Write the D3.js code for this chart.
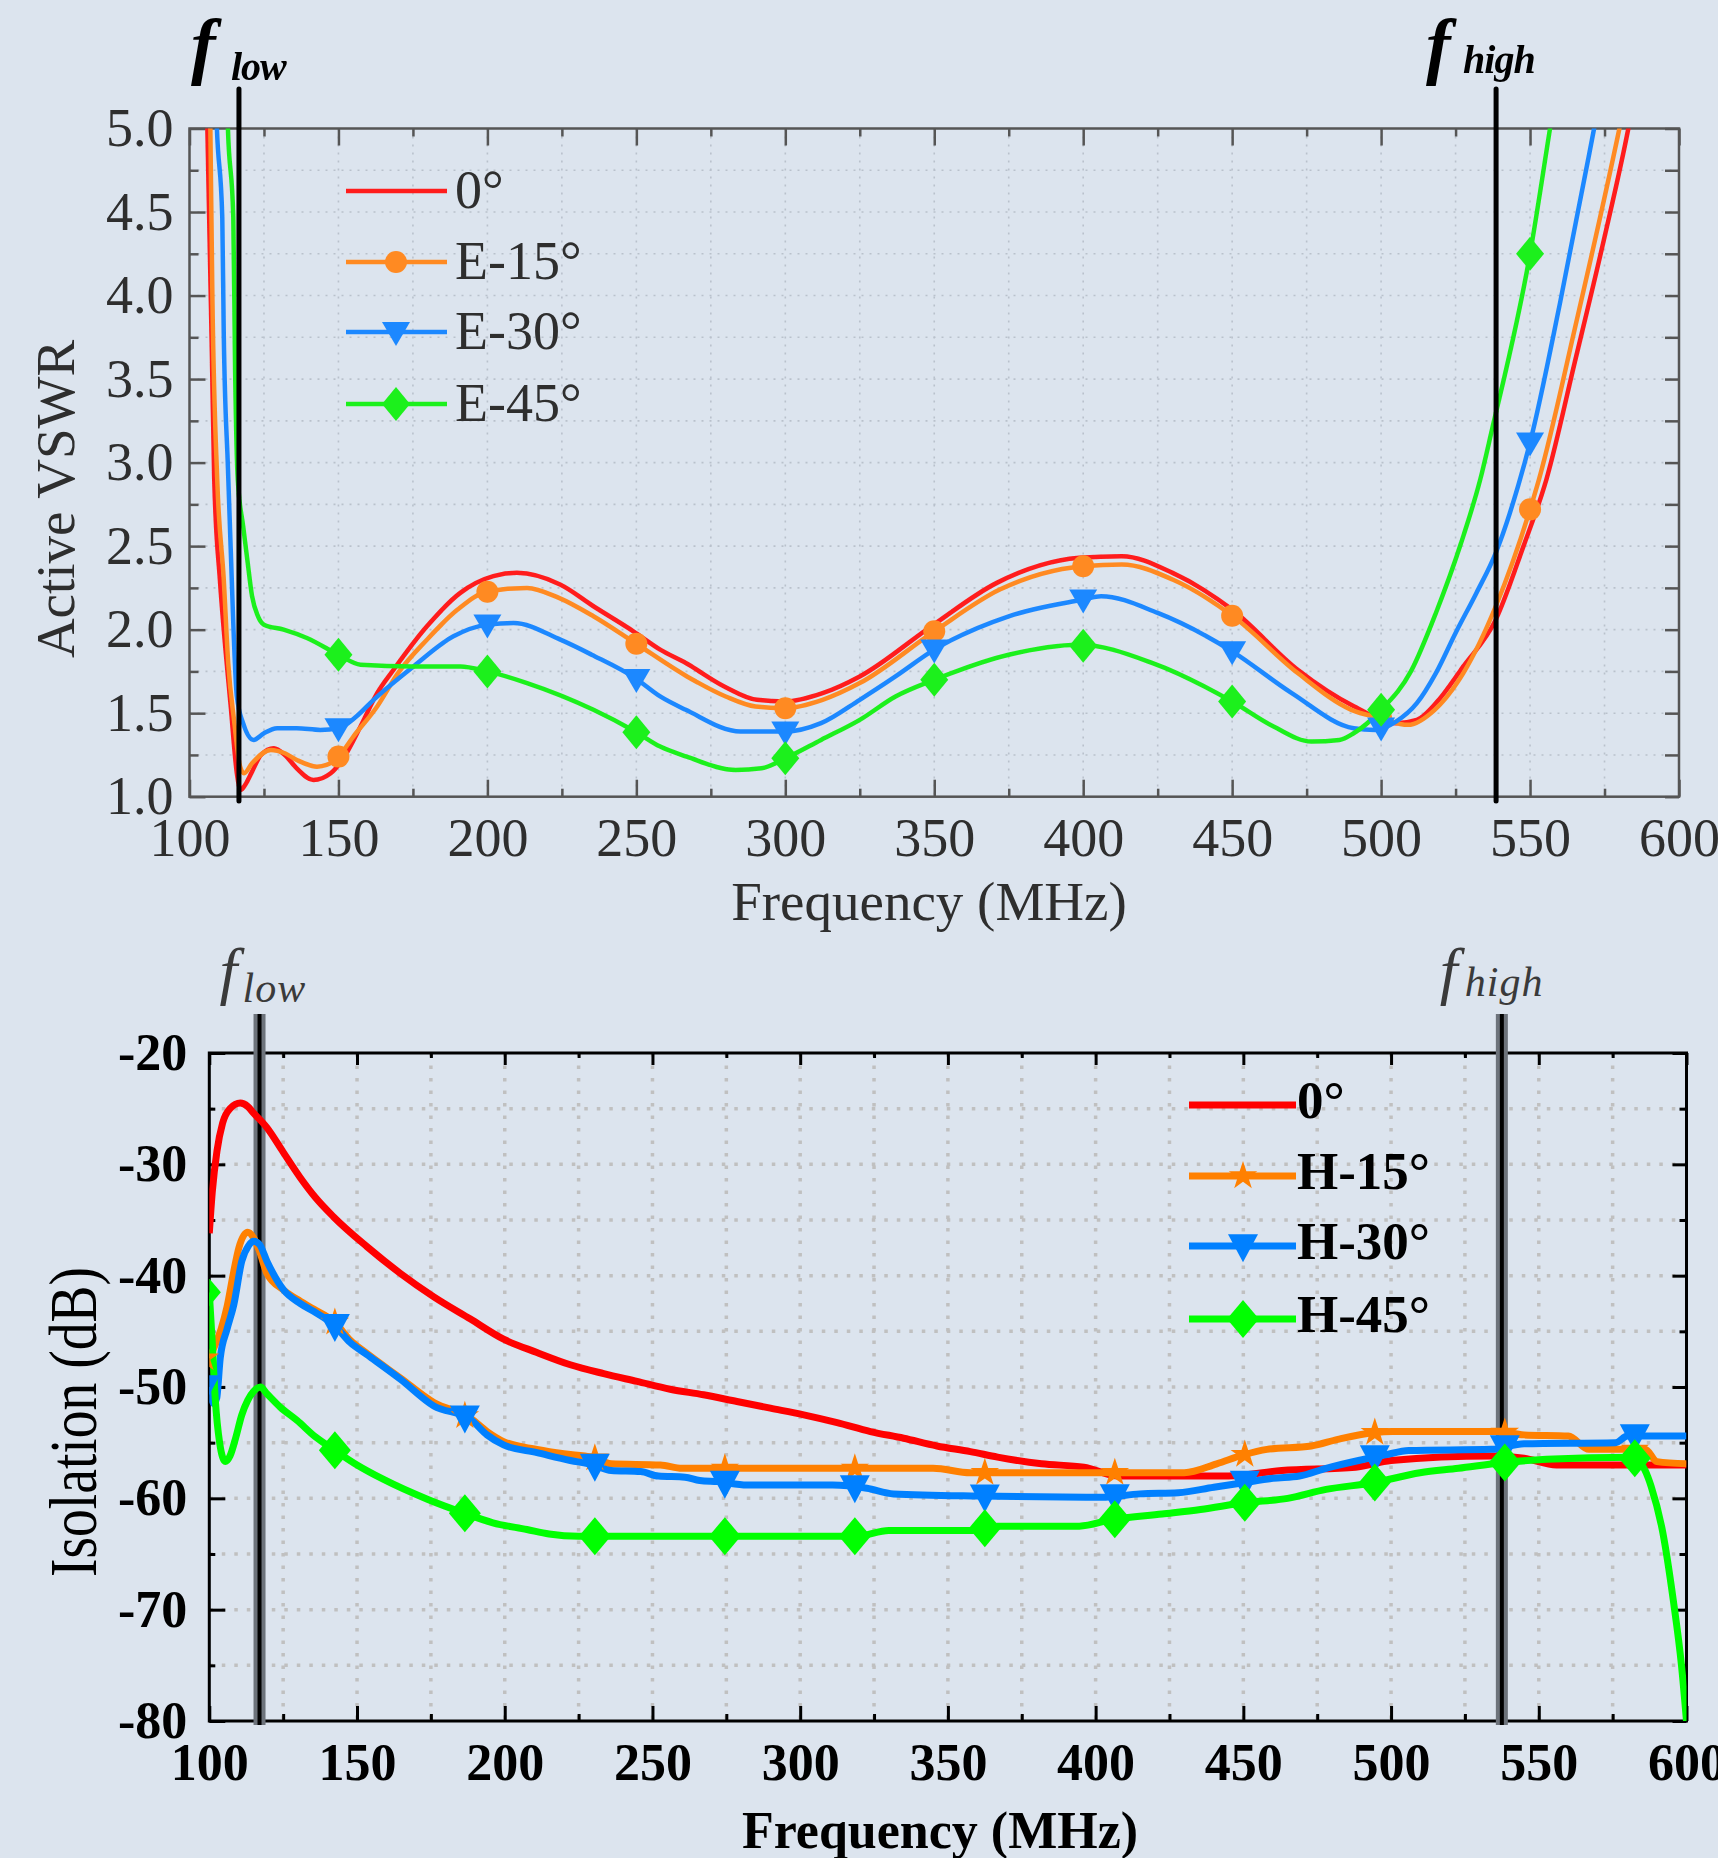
<!DOCTYPE html>
<html>
<head>
<meta charset="utf-8">
<script src="https://cdn.jsdelivr.net/npm/d3@7"></script>
<style>
  html, body { margin: 0; padding: 0; background: #dce4ee; }
  svg { display: block; }
</style>
</head>
<body>
<svg id="fig" width="1718" height="1858"></svg>
<script>
// ---------- shared axis values ----------
const freqTicks = [100, 150, 200, 250, 300, 350, 400, 450, 500, 550, 600];
const vswrTicks = [1.0, 1.5, 2.0, 2.5, 3.0, 3.5, 4.0, 4.5, 5.0];
const isoTicks = [-80, -70, -60, -50, -40, -30, -20];

// ---------- Active VSWR (E-plane scan) ----------
const vswrLabels = ["0°", "E-15°", "E-30°", "E-45°"];
const vswrBandEdges = [116.6, 538.6];          // f_low, f_high (MHz)
const vswrMarkerFreqs = [150, 200, 250, 300, 350, 400, 450, 500, 550];

const vswr0 = [[104,6.5],[106,5.0],[107.5,3.67],[108.3,2.9],[110.2,2.30],[111.5,2.0],[113.8,1.55],[115.9,1.14],[117.2,1.04],[119,1.08],[121,1.15],[124,1.25],[128.3,1.29],[132,1.25],[136,1.17],[141.6,1.10],[147.4,1.14],[152,1.24],[157.4,1.42],[163,1.62],[168.5,1.76],[179.7,2.02],[190.9,2.22],[202,2.32],[209.9,2.34],[224.4,2.27],[235.6,2.14],[249,1.99],[258,1.88],[266.6,1.80],[279.5,1.66],[290.5,1.58],[300,1.57],[312.5,1.62],[325,1.72],[349,2.02],[371,2.28],[398.7,2.43],[413,2.44],[430,2.34],[450,2.12],[472,1.76],[491,1.54],[505,1.44],[512,1.46],[518.4,1.56],[527.6,1.78],[538.5,2.06],[547.8,2.50],[555.5,2.90],[565,3.60],[575,4.35],[583,5.0],[590,5.7]];

const vswr15 = [[105,6.5],[107,5.0],[107.7,3.97],[109.3,2.9],[111.5,2.30],[113,1.80],[115,1.45],[117,1.18],[118.3,1.14],[121,1.20],[127.3,1.28],[132,1.26],[136,1.22],[142.8,1.18],[146,1.19],[150,1.24],[155,1.36],[163,1.54],[170,1.74],[179.7,1.94],[190,2.12],[200.3,2.23],[213.3,2.25],[224,2.19],[235.6,2.08],[249.6,1.92],[267,1.72],[280,1.60],[290,1.54],[300,1.53],[312.5,1.58],[325,1.68],[350,1.99],[372,2.24],[400,2.38],[413,2.39],[430,2.30],[450.3,2.08],[472,1.74],[490,1.52],[500,1.47],[509,1.43],[518,1.52],[527.6,1.74],[538.5,2.14],[550,2.72],[553,2.90],[565,3.80],[580,5.0],[588,5.7]];

const vswr30 = [[107,6.5],[109.2,5.0],[111,4.47],[111.5,3.77],[112.9,2.97],[113.8,2.50],[115.9,1.60],[118,1.44],[121.5,1.34],[125,1.38],[129.4,1.41],[136,1.41],[143.9,1.40],[150,1.41],[156,1.48],[161.8,1.58],[175.2,1.78],[188.6,1.96],[200,2.03],[208.8,2.04],[224.5,1.94],[235,1.85],[249.6,1.71],[258,1.60],[266.6,1.52],[285,1.39],[300,1.39],[312,1.44],[325,1.58],[337,1.72],[350,1.88],[375,2.08],[400,2.18],[406,2.20],[425,2.10],[450,1.87],[470,1.62],[490.8,1.41],[498,1.40],[505,1.45],[512,1.56],[518.4,1.74],[525,1.98],[532,2.22],[538.5,2.46],[546,2.86],[550,3.12],[560,3.95],[571.5,5.0],[580,5.8]];

const vswr45 = [[111,6.5],[112.9,5.0],[114.7,4.47],[115.3,3.57],[116.2,2.90],[118,2.62],[119.4,2.42],[121,2.20],[123,2.08],[125,2.03],[131.6,2.00],[139.4,1.95],[150,1.85],[157.4,1.79],[175,1.78],[190.9,1.78],[200,1.75],[213.3,1.68],[235.6,1.52],[249.6,1.39],[258,1.30],[266.9,1.24],[283.3,1.16],[292,1.17],[300,1.23],[312,1.34],[325,1.46],[337,1.60],[350,1.70],[375,1.85],[398.7,1.91],[423.3,1.80],[450,1.57],[463.9,1.42],[476.6,1.33],[486,1.34],[490.8,1.38],[500,1.52],[510,1.75],[518.4,2.10],[527.6,2.56],[533.3,2.90],[537,3.18],[550,4.25],[556.7,5.0],[562,5.6]];

// ---------- Isolation (H-plane scan) ----------
const isoLabels = ["0°", "H-15°", "H-30°", "H-45°"];
const isoBandEdges = [117, 537.5];             // f_low, f_high (MHz)
const isoMarkerFreqs = [98.5, 142.5, 186.5, 230.5, 274.5, 318.5, 362.5, 406.5, 450.5, 494.5, 538.5, 582.5];

const iso0 = [[100,-36.2],[101,-32.5],[102.6,-28.8],[104.5,-26.3],[107,-25.0],[110.5,-24.5],[113,-24.8],[115,-25.4],[119.5,-26.7],[125,-28.9],[130.8,-31.2],[136,-33.0],[142,-34.7],[153.4,-37.4],[164.7,-39.8],[176,-41.9],[188.4,-43.9],[199.6,-45.7],[210.9,-46.9],[222.2,-48.0],[233.5,-48.8],[244.8,-49.5],[256,-50.2],[267.3,-50.7],[278.6,-51.3],[289.9,-51.9],[301.2,-52.5],[312.5,-53.2],[323.8,-54.0],[335,-54.6],[346.3,-55.3],[357.6,-55.8],[366.8,-56.3],[381.7,-56.9],[396,-57.2],[408,-58.0],[445,-58.0],[463,-57.5],[488,-57.2],[500,-56.6],[534,-56.2],[545,-56.4],[556,-57.0],[600,-57.0]];

const iso15 = [[100,-47.4],[102,-46.2],[104,-44.8],[106,-42.8],[108,-40.0],[110,-37.5],[113,-36.1],[115,-36.6],[117,-37.8],[119.5,-39.8],[125.2,-41.3],[130.8,-42.3],[135.3,-43.0],[142.5,-44.2],[147.7,-45.8],[153.4,-47.0],[164.7,-49.2],[176,-51.4],[188.4,-52.8],[194,-54.0],[199.6,-54.9],[210.9,-55.6],[220,-56.0],[229.5,-56.3],[236,-56.9],[252.7,-57.0],[260,-57.3],[345,-57.3],[357.6,-57.7],[430,-57.7],[441,-56.9],[450,-56.1],[458,-55.6],[473,-55.3],[482,-54.7],[494,-54.1],[500.5,-54.0],[536,-54.0],[545,-54.3],[560,-54.4],[567,-55.6],[586,-55.6],[590,-56.7],[600,-56.9]];

const iso30 = [[100,-50.0],[101.5,-51.5],[102.5,-51.0],[103.7,-47.4],[106,-44.8],[108.3,-42.6],[111,-38.7],[113.3,-37.3],[115,-36.9],[117,-37.2],[119.5,-38.7],[125.2,-41.3],[130.8,-42.5],[135.3,-43.2],[142.5,-44.5],[147.7,-46.0],[153.4,-47.1],[164.7,-49.3],[176,-51.7],[188.4,-52.9],[194,-54.3],[199.6,-55.2],[210.9,-55.9],[222.2,-56.6],[230,-57.0],[236,-57.5],[246,-57.6],[252,-58.0],[261,-58.1],[266,-58.4],[272,-58.5],[282,-58.8],[311,-58.8],[322.6,-59.1],[331.6,-59.6],[360,-59.8],[402,-59.9],[415,-59.6],[428,-59.5],[440,-59.0],[450,-58.6],[460,-58.2],[469,-58.0],[478,-57.3],[489,-56.6],[498,-56.1],[506,-55.7],[534,-55.6],[545,-55.1],[576,-55.0],[580,-54.4],[600,-54.4]];

const iso45 = [[100,-41.5],[101,-46],[102,-51],[103.5,-55],[105.4,-56.7],[107,-56.2],[109,-54.5],[111,-52.5],[113,-51.2],[115,-50.4],[117.3,-50.0],[119.5,-50.6],[124,-51.8],[129.7,-53.0],[136,-54.5],[142,-55.6],[150,-57.0],[159,-58.3],[174,-60.1],[186,-61.3],[196,-62.2],[207.5,-62.8],[215,-63.2],[225,-63.4],[319,-63.4],[330,-62.9],[357.6,-62.9],[366.8,-62.5],[394.5,-62.5],[405.7,-61.9],[422.5,-61.4],[435.5,-61.0],[450.4,-60.4],[465,-60.0],[478,-59.2],[494,-58.6],[509.8,-57.7],[522.8,-57.3],[537.6,-56.8],[552.6,-56.5],[582.2,-56.3],[586,-57.5],[588,-58.9],[592,-63.1],[595.5,-69.1],[598.3,-75],[600,-80]];

// ---------- drawing ----------
const svg = d3.select("#fig");
const defs = svg.append("defs");
defs.append("filter").attr("id", "soft")
  .append("feGaussianBlur").attr("stdDeviation", 0.6);

// linear read-out of a series at a given frequency (used to seat markers on the curves)
function valueAt(series, f) {
  const i = d3.bisector(d => d[0]).left(series, f);
  if (i <= 0) return series[0][1];
  if (i >= series.length) return series[series.length - 1][1];
  const a = series[i - 1], b = series[i];
  return a[1] + (b[1] - a[1]) * (f - a[0]) / (b[0] - a[0]);
}

// marker shapes
function triDown(w, h) { return `M${-w/2},${-0.42*h}L${w/2},${-0.42*h}L0,${0.58*h}Z`; }
function diamond(w, h) { return `M0,${-h/2}L${w/2},0L0,${h/2}L${-w/2},0Z`; }
function circle(r) { return d3.symbol(d3.symbolCircle, Math.PI * r * r)(); }
function star(R) { return d3.symbol(d3.symbolStar, R * R / 0.8908130915292852)(); }

function minorValues(majors) {
  const out = [];
  for (let i = 0; i < majors.length - 1; i++) out.push((majors[i] + majors[i + 1]) / 2);
  return out;
}

// =====================================================================
// Panel 1: Active VSWR
// =====================================================================
(function () {
  const L = 189.5, R = 1679, T = 128.5, B = 796.7;
  const x = d3.scaleLinear().domain([100, 600]).range([L, R]);
  const y = d3.scaleLinear().domain([1, 5]).range([B, T]);
  const g = svg.append("g").attr("filter", "url(#soft)");
  const frameCol = "#555";
  const textCol = "#2e2e2e";
  const font = "'Liberation Serif', 'Times New Roman', serif";

  defs.append("clipPath").attr("id", "clipTop")
    .append("rect").attr("x", L).attr("y", T).attr("width", R - L).attr("height", B - T);

  // dotted grid on every minor division
  const gx = d3.range(125, 600, 25), gy = d3.range(1.25, 5, 0.25);
  g.append("g").selectAll("line").data(gx).join("line")
    .attr("x1", d => x(d)).attr("x2", d => x(d)).attr("y1", T).attr("y2", B)
    .attr("stroke", "#b9c1cc").attr("stroke-width", 1.6).attr("stroke-dasharray", "2 6");
  g.append("g").selectAll("line").data(gy).join("line")
    .attr("y1", d => y(d)).attr("y2", d => y(d)).attr("x1", L).attr("x2", R)
    .attr("stroke", "#b9c1cc").attr("stroke-width", 1.6).attr("stroke-dasharray", "2 6");

  // axes (ticks pointing inward)
  const styleAxis = sel => {
    sel.select(".domain").remove();
    sel.selectAll(".tick line").attr("stroke", frameCol).attr("stroke-width", 2.5);
    sel.selectAll("text").attr("fill", textCol).attr("font-family", font).attr("font-size", 54);
  };
  g.append("g").attr("transform", `translate(0,${B})`)
    .call(d3.axisBottom(x).tickValues(freqTicks).tickSize(-17).tickPadding(21).tickFormat(d3.format("d")))
    .call(styleAxis);
  g.append("g").attr("transform", `translate(0,${B})`)
    .call(d3.axisBottom(x).tickValues(minorValues(freqTicks)).tickSize(-8).tickFormat(""))
    .call(styleAxis);
  g.append("g").attr("transform", `translate(0,${T})`)
    .call(d3.axisTop(x).tickValues(freqTicks).tickSize(-17).tickFormat(""))
    .call(styleAxis);
  g.append("g").attr("transform", `translate(0,${T})`)
    .call(d3.axisTop(x).tickValues(minorValues(freqTicks)).tickSize(-8).tickFormat(""))
    .call(styleAxis);
  g.append("g").attr("transform", `translate(${L},0)`)
    .call(d3.axisLeft(y).tickValues(vswrTicks).tickSize(-16).tickPadding(16).tickFormat(d3.format(".1f")))
    .call(styleAxis);
  g.append("g").attr("transform", `translate(${L},0)`)
    .call(d3.axisLeft(y).tickValues(minorValues(vswrTicks)).tickSize(-9).tickFormat(""))
    .call(styleAxis);
  g.append("g").attr("transform", `translate(${R},0)`)
    .call(d3.axisRight(y).tickValues(vswrTicks.concat(minorValues(vswrTicks))).tickSize(-14).tickFormat(""))
    .call(styleAxis);

  g.append("rect").attr("x", L).attr("y", T).attr("width", R - L).attr("height", B - T)
    .attr("fill", "none").attr("stroke", frameCol).attr("stroke-width", 2.5);

  // curves
  const colors = ["#ff1c1c", "#ff8a22", "#1e88ff", "#1ef01e"];
  const series = [vswr0, vswr15, vswr30, vswr45];
  const line = d3.line().x(d => x(d[0])).y(d => y(d[1])).curve(d3.curveMonotoneX);
  const plot = g.append("g").attr("clip-path", "url(#clipTop)");
  series.forEach((s, i) => {
    plot.append("path").datum(s).attr("d", line)
      .attr("fill", "none").attr("stroke", colors[i]).attr("stroke-width", 4.5)
      .attr("stroke-linejoin", "round");
  });
  const shapes = [null, () => circle(11), () => triDown(28, 24), () => diamond(28, 34)];
  series.forEach((s, i) => {
    if (!shapes[i]) return;
    plot.append("g").selectAll("path")
      .data(vswrMarkerFreqs.filter(f => valueAt(s, f) <= 5.2))
      .join("path")
      .attr("transform", f => `translate(${x(f)},${y(valueAt(s, f))})`)
      .attr("d", shapes[i]).attr("fill", colors[i]);
  });

  // band edges: f_low / f_high
  const edgeNames = ["low", "high"];
  const fOffset = [-48, -70], subOffset = [-8, -33], subBase = [80, 73];
  vswrBandEdges.forEach((f, i) => {
    g.append("line").attr("x1", x(f)).attr("x2", x(f)).attr("y1", 89).attr("y2", 801)
      .attr("stroke", "#000").attr("stroke-width", 5).attr("stroke-linecap", "round");
    const t = g.append("text").attr("font-family", font).attr("font-style", "italic")
      .attr("font-weight", "bold").attr("fill", "#000");
    t.append("tspan").attr("x", x(f) + fOffset[i]).attr("y", 70).attr("font-size", 74).text("f");
    t.append("tspan").attr("x", x(f) + subOffset[i]).attr("y", subBase[i])
      .attr("font-size", 40).attr("letter-spacing", -1).text(edgeNames[i]);
  });

  // legend
  const legY = [191, 262, 332, 404];
  const lg = g.append("g");
  vswrLabels.forEach((lab, i) => {
    lg.append("line").attr("x1", 346).attr("x2", 447).attr("y1", legY[i]).attr("y2", legY[i])
      .attr("stroke", colors[i]).attr("stroke-width", 4.5);
    if (shapes[i]) lg.append("path").attr("transform", `translate(396,${legY[i]})`)
      .attr("d", shapes[i]).attr("fill", colors[i]);
    lg.append("text").attr("x", 455).attr("y", legY[i] + 17)
      .attr("font-family", font).attr("font-size", 54).attr("fill", textCol).text(lab);
  });

  // axis titles
  g.append("text").attr("x", 929).attr("y", 920).attr("text-anchor", "middle")
    .attr("font-family", font).attr("font-size", 55).attr("fill", textCol).text("Frequency (MHz)");
  g.append("text").attr("transform", "translate(74,499) rotate(-90)").attr("text-anchor", "middle")
    .attr("font-family", font).attr("font-size", 55).attr("fill", textCol).text("Active VSWR");
})();

// =====================================================================
// Panel 2: Isolation
// =====================================================================
(function () {
  const L = 209.3, R = 1686.5, T = 1053, B = 1721;
  const x = d3.scaleLinear().domain([100, 600]).range([L, R]);
  const y = d3.scaleLinear().domain([-80, -20]).range([B, T]);
  const g = svg.append("g");
  const font = "'Liberation Serif', 'Times New Roman', serif";

  defs.append("clipPath").attr("id", "clipBottom")
    .append("rect").attr("x", L).attr("y", T).attr("width", R - L).attr("height", B - T);

  // dotted grid
  const gx = d3.range(125, 600, 25), gy = d3.range(-75, -20, 5);
  g.append("g").selectAll("line").data(gx).join("line")
    .attr("x1", d => x(d)).attr("x2", d => x(d)).attr("y1", T).attr("y2", B)
    .attr("stroke", "#c0c0c0").attr("stroke-width", 3.5).attr("stroke-dasharray", "3.5 9");
  g.append("g").selectAll("line").data(gy).join("line")
    .attr("y1", d => y(d)).attr("y2", d => y(d)).attr("x1", L).attr("x2", R)
    .attr("stroke", "#c0c0c0").attr("stroke-width", 3.5).attr("stroke-dasharray", "3.5 9");

  const styleAxis = sel => {
    sel.select(".domain").remove();
    sel.selectAll(".tick line").attr("stroke", "#000").attr("stroke-width", 3);
    sel.selectAll("text").attr("fill", "#000").attr("font-family", font)
      .attr("font-weight", "bold").attr("font-size", 52);
  };
  g.append("g").attr("transform", `translate(0,${B})`)
    .call(d3.axisBottom(x).tickValues(freqTicks).tickSize(-15).tickPadding(22).tickFormat(d => String(d)))
    .call(styleAxis);
  g.append("g").attr("transform", `translate(0,${B})`)
    .call(d3.axisBottom(x).tickValues(minorValues(freqTicks)).tickSize(-7).tickFormat(""))
    .call(styleAxis);
  g.append("g").attr("transform", `translate(0,${T})`)
    .call(d3.axisTop(x).tickValues(freqTicks).tickSize(-12).tickFormat(""))
    .call(styleAxis);
  g.append("g").attr("transform", `translate(0,${T})`)
    .call(d3.axisTop(x).tickValues(minorValues(freqTicks)).tickSize(-5).tickFormat(""))
    .call(styleAxis);
  g.append("g").attr("transform", `translate(${L},0)`)
    .call(d3.axisLeft(y).tickValues(isoTicks).tickSize(-16).tickPadding(22).tickFormat(d => String(d)))
    .call(styleAxis);
  g.append("g").attr("transform", `translate(${L},0)`)
    .call(d3.axisLeft(y).tickValues(minorValues(isoTicks)).tickSize(-6).tickFormat(""))
    .call(styleAxis);
  g.append("g").attr("transform", `translate(${R},0)`)
    .call(d3.axisRight(y).tickValues(isoTicks).tickSize(-14).tickFormat(""))
    .call(styleAxis);
  g.append("g").attr("transform", `translate(${R},0)`)
    .call(d3.axisRight(y).tickValues(minorValues(isoTicks)).tickSize(-7).tickFormat(""))
    .call(styleAxis);

  g.append("rect").attr("x", L).attr("y", T).attr("width", R - L).attr("height", B - T)
    .attr("fill", "none").attr("stroke", "#000").attr("stroke-width", 3);

  // band edges (drawn beneath the curves)
  const edgeNames = ["low", "high"];
  const fOffset = [-40, -62], subOffset = [-17, -37], subBase = [1002, 996];
  isoBandEdges.forEach((f, i) => {
    g.append("line").attr("x1", x(f)).attr("x2", x(f)).attr("y1", 1014).attr("y2", 1725)
      .attr("stroke", "#6d737b").attr("stroke-width", 12);
    g.append("line").attr("x1", x(f)).attr("x2", x(f)).attr("y1", 1014).attr("y2", 1725)
      .attr("stroke", "#000").attr("stroke-width", 4);
    const t = g.append("text").attr("font-family", font).attr("font-style", "italic")
      .attr("fill", "#3a3a3a");
    t.append("tspan").attr("x", x(f) + fOffset[i]).attr("y", 992).attr("font-size", 64).text("f");
    t.append("tspan").attr("x", x(f) + subOffset[i]).attr("y", subBase[i])
      .attr("font-size", 42).attr("letter-spacing", 1).text(edgeNames[i]);
  });

  const colors = ["#ff0000", "#ff8000", "#0080ff", "#00ff00"];
  const series = [iso0, iso15, iso30, iso45];
  const line = d3.line().x(d => x(d[0])).y(d => y(d[1])).curve(d3.curveMonotoneX);
  const plot = g.append("g").attr("clip-path", "url(#clipBottom)");
  series.forEach((s, i) => {
    plot.append("path").datum(s).attr("d", line)
      .attr("fill", "none").attr("stroke", colors[i]).attr("stroke-width", 7)
      .attr("stroke-linejoin", "round");
  });
  const shapes = [null, () => star(15), () => triDown(30, 28), () => diamond(32, 38)];
  series.forEach((s, i) => {
    if (!shapes[i]) return;
    plot.append("g").selectAll("path").data(isoMarkerFreqs).join("path")
      .attr("transform", f => `translate(${x(f)},${y(valueAt(s, f))})`)
      .attr("d", shapes[i]).attr("fill", colors[i]);
  });

  // legend
  const legY = [1105, 1176, 1246, 1319];
  const lg = g.append("g");
  isoLabels.forEach((lab, i) => {
    lg.append("line").attr("x1", 1189).attr("x2", 1296).attr("y1", legY[i]).attr("y2", legY[i])
      .attr("stroke", colors[i]).attr("stroke-width", 7);
    if (shapes[i]) lg.append("path").attr("transform", `translate(1243,${legY[i]})`)
      .attr("d", shapes[i]).attr("fill", colors[i]);
    lg.append("text").attr("x", 1297).attr("y", legY[i] + 13)
      .attr("font-family", font).attr("font-weight", "bold").attr("font-size", 53)
      .attr("fill", "#000").text(lab);
  });

  // axis titles
  g.append("text").attr("x", 940).attr("y", 1848).attr("text-anchor", "middle")
    .attr("font-family", font).attr("font-weight", "bold").attr("font-size", 52)
    .attr("fill", "#000").text("Frequency (MHz)");
  g.append("text").attr("transform", "translate(96,1422) rotate(-90)").attr("text-anchor", "middle")
    .attr("font-family", font).attr("font-size", 68).attr("fill", "#000")
    .attr("textLength", 310).attr("lengthAdjust", "spacingAndGlyphs").text("Isolation (dB)");
})();
</script>
</body>
</html>
